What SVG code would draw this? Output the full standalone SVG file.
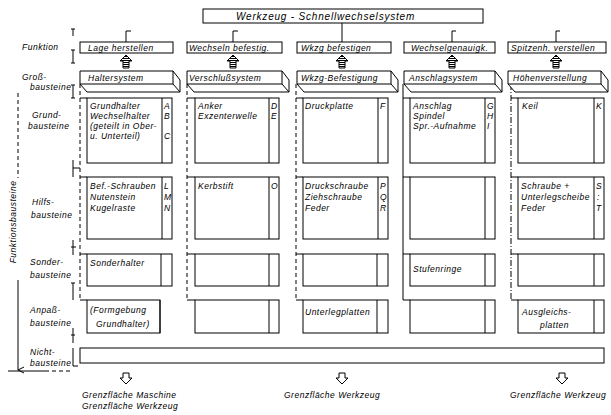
<svg xmlns="http://www.w3.org/2000/svg" width="611" height="415" viewBox="0 0 611 415">
<style>
.b{fill:#fff;stroke:#000;stroke-width:1}
.l{fill:none;stroke:#000;stroke-width:1}
.d{fill:none;stroke:#000;stroke-width:1;stroke-dasharray:4 3}
.t{font-family:"Liberation Sans",Arial,sans-serif;font-style:italic;font-size:8.5px;letter-spacing:0.5px;fill:#000}
.h{fill:url(#hatch);stroke:#000;stroke-width:1}
</style>
<defs>
<pattern id="hatch" width="3" height="2" patternUnits="userSpaceOnUse"><rect width="3" height="2" fill="#fff"/><line x1="0" y1="0.5" x2="3" y2="0.5" stroke="#000" stroke-width="1"/></pattern>
<marker id="ah" markerWidth="8" markerHeight="8" refX="4" refY="7" orient="auto" markerUnits="userSpaceOnUse"><path d="M1,1 L4,7 L7,1" fill="none" stroke="#000"/></marker>
</defs>
<rect width="611" height="415" fill="#fff"/>

<g id="top">
<rect class="b" x="203" y="9" width="280" height="14"/>
<text class="t" x="236" y="20" style="font-size:10px;letter-spacing:0.8px">Werkzeug - Schnellwechselsystem</text>
</g>

<g id="connectors">
<path class="l" d="M126,31 V42 M126,31 h5 M233,31 V42 M233,31 h5 M342,23 V42 M452,31 V42 M452,31 h4 M556,31 V42 M556,31 h4"/>
<path class="h" d="M126,55 L132,61 L129,61 L129,68 L123,68 L123,61 L120,61 Z"/>
<path class="h" d="M233,55 L239,61 L236,61 L236,68 L230,68 L230,61 L227,61 Z"/>
<path class="h" d="M342,55 L348,61 L345,61 L345,68 L339,68 L339,61 L336,61 Z"/>
<path class="h" d="M452,55 L458,61 L455,61 L455,68 L449,68 L449,61 L446,61 Z"/>
<path class="h" d="M556,55 L562,61 L559,61 L559,68 L553,68 L553,61 L550,61 Z"/>
<path class="d" d="M80,84 V300"/>
<path class="d" d="M187,84 V300"/>
<path class="d" d="M296,84 V300"/>
<path class="l" d="M403,84 V300"/>
<path class="l" d="M511,84 V300" stroke-dasharray="6 2 1 2"/>
<path class="l" d="M80,98 H87 M80,177 H87 M80,254 H87 M80,300 H87"/>
<path class="l" d="M187,98 H195 M187,177 H195 M187,254 H195 M187,300 H195"/>
<path class="l" d="M296,98 H303 M296,177 H303 M296,254 H303 M296,300 H303"/>
<path class="l" d="M403,98 H410 M403,177 H410 M403,254 H410 M403,300 H410"/>
<path class="l" d="M511,98 H518 M511,177 H518 M511,254 H518 M511,300 H518"/>
</g>

<g id="ticks">
<path class="l" d="M73,29 V36 M71,29 H75 M73,50 V63 M71,50 H75 M71,63 H75 M73,85 V98 M71,85 H75 M71,98 H75 M73,160 V177 M73,168 H80 M73,240 V255 M71,247 H76 M73,283 V300 M71,283 H75 M73,328 V343 M71,335 H75 M73,348 V366 M73,366 H78"/>
<path class="d" d="M18,93 V178" stroke-dasharray="2 14"/>
<path class="l" d="M18,280 V370" marker-end="url(#ah)"/>
<path class="l" d="M8,371 H45"/>
<path class="d" d="M45,371 H70"/>
</g>

<g id="labels">
<text class="t" x="22" y="50">Funktion</text>
<text class="t" x="22" y="80">Groß-</text>
<text class="t" x="30" y="90">bausteine</text>
<text class="t" x="32" y="118">Grund-</text>
<text class="t" x="28" y="129">bausteine</text>
<text class="t" x="32" y="205">Hilfs-</text>
<text class="t" x="31" y="218">bausteine</text>
<text class="t" x="30" y="265">Sonder-</text>
<text class="t" x="30" y="278">bausteine</text>
<text class="t" x="30" y="313">Anpaß-</text>
<text class="t" x="30" y="326">bausteine</text>
<text class="t" x="30" y="355">Nicht-</text>
<text class="t" x="30" y="366">bausteine</text>
<text class="t" transform="translate(16,222) rotate(-90)" text-anchor="middle">Funktionsbausteine</text>
</g>

<g id="col1">
<rect class="b" x="80" y="42" width="93" height="11"/>
<text class="t" x="88" y="51">Lage herstellen</text>
<path class="b" d="M80,71 H173 V84 H80 Z M173,71 L180,80 V92 L173,84 M80,84 L87,92 H180"/>
<text class="t" x="88" y="81">Haltersystem</text>
<rect class="b" x="87" y="98" width="85" height="65"/><path class="l" d="M162,98 V163"/>
<text class="t" x="90" y="109">Grundhalter</text><text class="t" x="90" y="119">Wechselhalter</text><text class="t" x="90" y="129">(geteilt in Ober-</text><text class="t" x="90" y="139">u. Unterteil)</text>
<text class="t" x="164" y="109">A</text><text class="t" x="164" y="119">B</text><text class="t" x="164" y="139">C</text>
<rect class="b" x="87" y="177" width="85" height="62"/><path class="l" d="M162,177 V239"/>
<text class="t" x="90" y="189">Bef.-Schrauben</text><text class="t" x="90" y="200">Nutenstein</text><text class="t" x="90" y="211">Kugelraste</text>
<text class="t" x="164" y="189">L</text><text class="t" x="164" y="200">M</text><text class="t" x="164" y="211">N</text>
<rect class="b" x="87" y="254" width="85" height="32"/><path class="l" d="M161,254 V286"/>
<text class="t" x="90" y="266">Sonderhalter</text>
<rect class="b" x="87" y="300" width="73" height="33"/><path class="l" d="M160,300 V333"/>
<text class="t" x="90" y="313">(Formgebung</text><text class="t" x="96" y="327">Grundhalter)</text>
</g>

<g id="col2">
<rect class="b" x="187" y="42" width="95" height="11"/>
<text class="t" x="189" y="51">Wechseln befestig.</text>
<path class="b" d="M187,71 H282 V84 H187 Z M282,71 L289,80 V92 L282,84 M187,84 L194,92 H289"/>
<text class="t" x="189" y="81">Verschlußsystem</text>
<rect class="b" x="195" y="98" width="84" height="65"/><path class="l" d="M269,98 V163"/>
<text class="t" x="198" y="109">Anker</text><text class="t" x="198" y="119">Exzenterwelle</text>
<text class="t" x="271" y="109">D</text><text class="t" x="271" y="119">E</text>
<rect class="b" x="195" y="177" width="84" height="62"/><path class="l" d="M269,177 V239"/>
<text class="t" x="198" y="189">Kerbstift</text>
<text class="t" x="271" y="189">O</text>
<rect class="b" x="195" y="254" width="84" height="32"/><path class="l" d="M269,254 V286"/>
<rect class="b" x="195" y="300" width="84" height="33"/><path class="l" d="M269,300 V333"/>
</g>

<g id="col3">
<rect class="b" x="297" y="42" width="94" height="11"/>
<text class="t" x="301" y="51">Wkzg befestigen</text>
<path class="b" d="M297,71 H391 V84 H297 Z M391,71 L398,80 V92 L391,84 M297,84 L304,92 H398"/>
<text class="t" x="301" y="81">Wkzg-Befestigung</text>
<rect class="b" x="303" y="98" width="85" height="65"/><path class="l" d="M378,98 V163"/>
<text class="t" x="305" y="109">Druckplatte</text>
<text class="t" x="380" y="109">F</text>
<rect class="b" x="303" y="177" width="85" height="62"/><path class="l" d="M378,177 V239"/>
<text class="t" x="305" y="189">Druckschraube</text><text class="t" x="305" y="200">Ziehschraube</text><text class="t" x="305" y="211">Feder</text>
<text class="t" x="380" y="189">P</text><text class="t" x="380" y="200">Q</text><text class="t" x="380" y="211">R</text>
<rect class="b" x="303" y="254" width="85" height="32"/><path class="l" d="M377,254 V286"/>
<rect class="b" x="303" y="300" width="85" height="33"/><path class="l" d="M377,300 V333"/>
<text class="t" x="305" y="315">Unterlegplatten</text>
</g>

<g id="col4">
<rect class="b" x="404" y="42" width="91" height="11"/>
<text class="t" x="411" y="51">Wechselgenauigk.</text>
<path class="b" d="M404,71 H495 V84 H404 Z M495,71 L502,80 V92 L495,84 M404,84 L411,92 H502"/>
<text class="t" x="409" y="81">Anschlagsystem</text>
<rect class="b" x="410" y="98" width="85" height="65"/><path class="l" d="M485,98 V163"/>
<text class="t" x="413" y="109">Anschlag</text><text class="t" x="413" y="119">Spindel</text><text class="t" x="413" y="129">Spr.-Aufnahme</text>
<text class="t" x="487" y="109">G</text><text class="t" x="487" y="119">H</text><text class="t" x="487" y="129">I</text>
<rect class="b" x="410" y="177" width="85" height="62"/><path class="l" d="M485,177 V239"/>
<rect class="b" x="410" y="254" width="85" height="32"/><path class="l" d="M485,254 V286"/>
<text class="t" x="413" y="272">Stufenringe</text>
<rect class="b" x="410" y="300" width="85" height="33"/><path class="l" d="M485,300 V333"/>
</g>

<g id="col5">
<rect class="b" x="508" y="42" width="98" height="11"/>
<text class="t" x="511" y="51">Spitzenh. verstellen</text>
<path class="b" d="M508,71 H601 V84 H508 Z M601,71 L608,80 V92 L601,84 M508,84 L515,92 H608"/>
<text class="t" x="513" y="81">Höhenverstellung</text>
<rect class="b" x="518" y="98" width="86" height="65"/><path class="l" d="M594,98 V163"/>
<text class="t" x="522" y="109">Keil</text>
<text class="t" x="596" y="109">K</text>
<rect class="b" x="518" y="177" width="86" height="62"/><path class="l" d="M594,177 V239"/>
<text class="t" x="521" y="189">Schraube +</text><text class="t" x="521" y="200">Unterlegscheibe</text><text class="t" x="521" y="211">Feder</text>
<text class="t" x="596" y="189">S</text><text class="t" x="597" y="200">:</text><text class="t" x="596" y="211">T</text>
<rect class="b" x="518" y="254" width="86" height="32"/><path class="l" d="M594,254 V286"/>
<rect class="b" x="518" y="300" width="86" height="33"/><path class="l" d="M594,300 V333"/>
<text class="t" x="522" y="315">Ausgleichs-</text><text class="t" x="540" y="328">platten</text>
</g>

<g id="nicht">
<rect class="b" x="80" y="348" width="524" height="15"/>
</g>

<g id="bottom">
<path class="b" d="M123,373 H129 V378 H132 L126,384 L120,378 H123 Z"/>
<path class="b" d="M339,373 H345 V378 H348 L342,384 L336,378 H339 Z"/>
<path class="b" d="M559,373 H565 V378 H568 L562,384 L556,378 H559 Z"/>
<text class="t" x="82" y="398">Grenzfläche  Maschine</text>
<text class="t" x="82" y="409">Grenzfläche  Werkzeug</text>
<text class="t" x="284" y="398">Grenzfläche  Werkzeug</text>
<text class="t" x="510" y="398">Grenzfläche  Werkzeug</text>
</g>
</svg>
